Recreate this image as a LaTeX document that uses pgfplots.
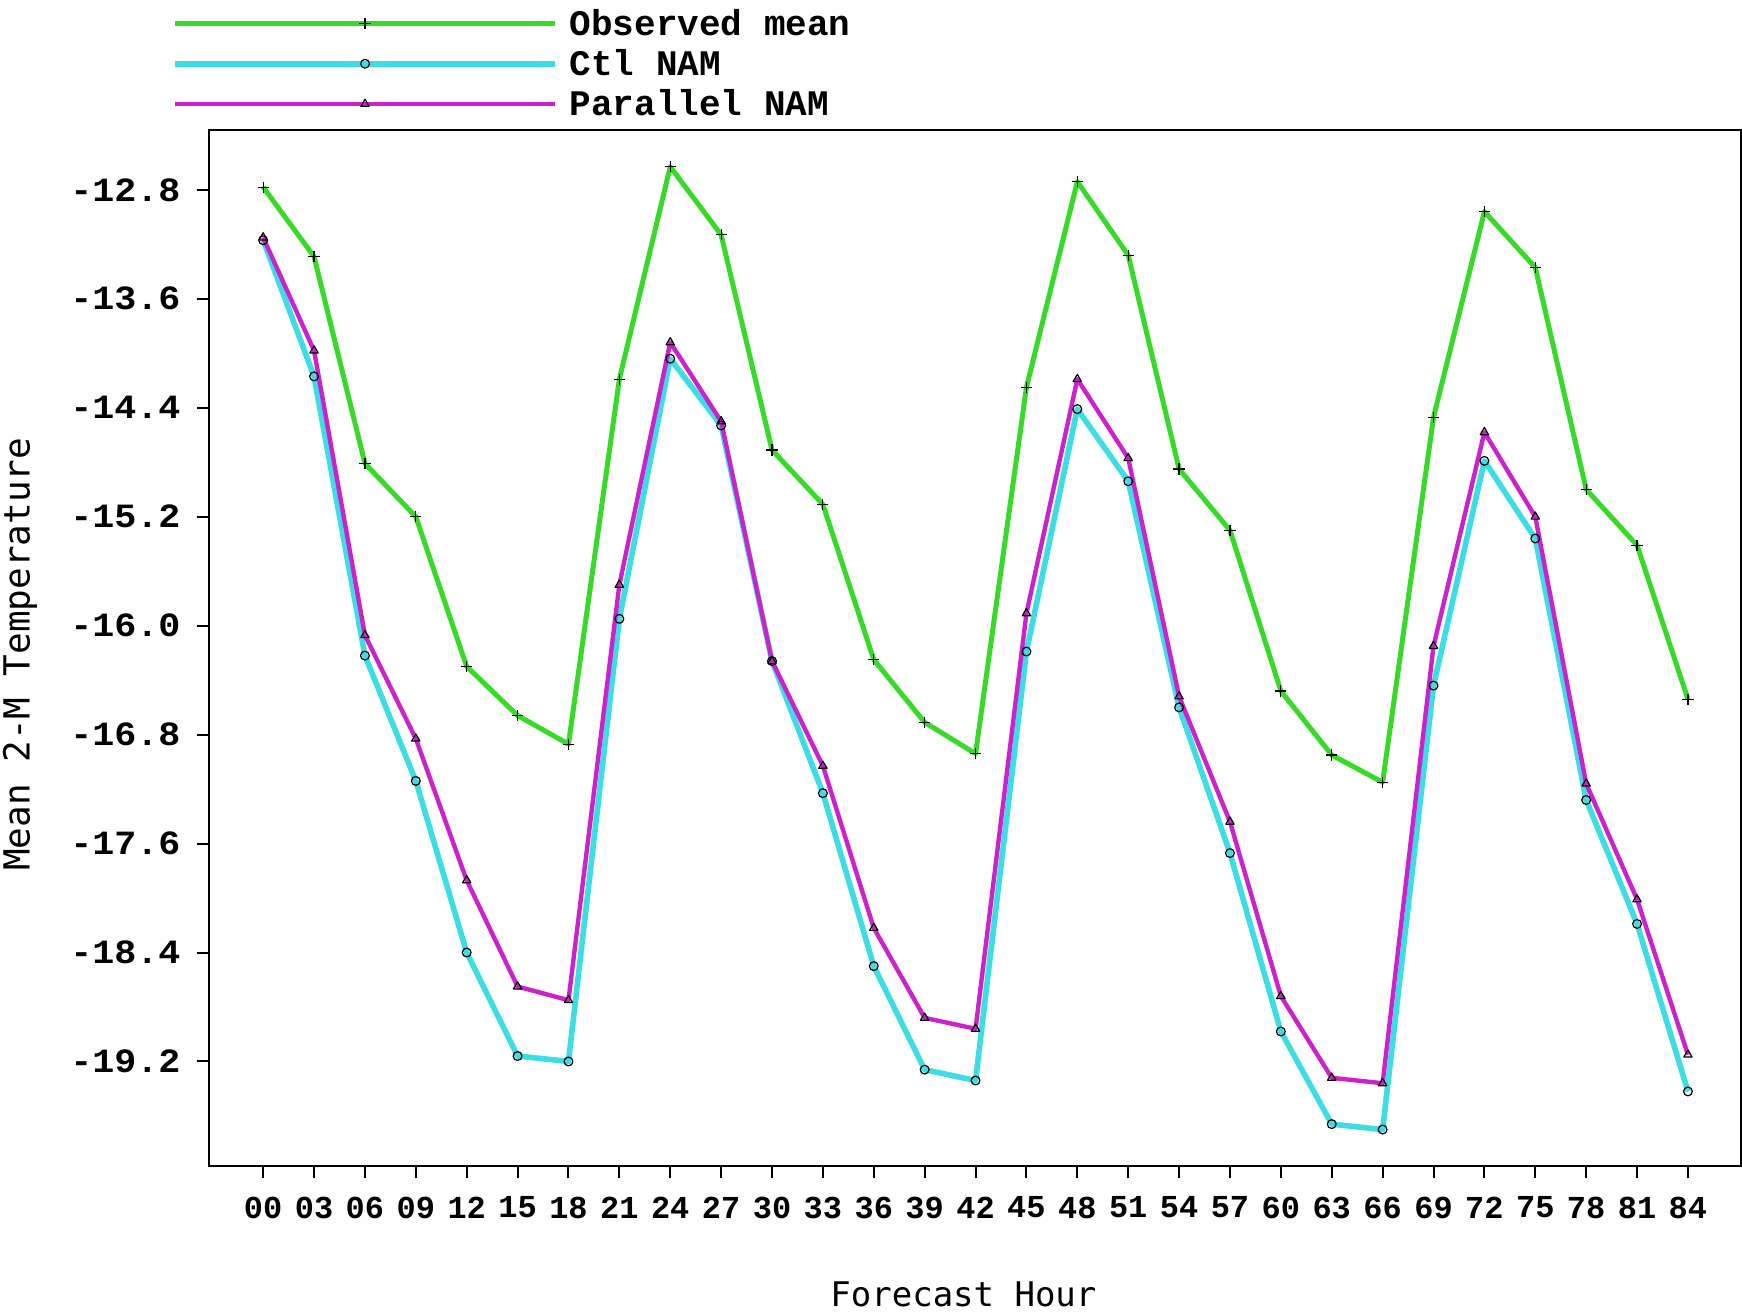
\documentclass[border=0pt]{standalone}
\usepackage{fontspec}
\usepackage{pgfplots}
\usepackage{pgfplotstable}
\pgfplotsset{compat=1.18}
\setmonofont{Liberation Mono}
\newfontfamily\labfont{DejaVu Sans Mono}
\newfontfamily\ytickfont{Liberation Mono Bold}[FakeStretch=1.08]
\newcommand\tickfont{\ttfamily\bfseries}
\definecolor{obsgreen}{RGB}{55,218,40}
\definecolor{ctlcyan}{RGB}{60,222,228}
\definecolor{parmag}{RGB}{204,34,204}

\pgfplotstableread{
x obs ctl par
0  -12.78 -13.17 -13.15
3  -13.29 -14.17 -13.98
6  -14.81 -16.22 -16.07
9  -15.20 -17.14 -16.83
12 -16.30 -18.40 -17.87
15 -16.66 -19.16 -18.65
18 -16.87 -19.20 -18.75
21 -14.19 -15.95 -15.70
24 -12.63 -14.04 -13.92
27 -13.13 -14.53 -14.50
30 -14.71 -16.26 -16.26
33 -15.11 -17.23 -17.03
36 -16.25 -18.50 -18.22
39 -16.71 -19.26 -18.88
42 -16.94 -19.34 -18.96
45 -14.25 -16.19 -15.91
48 -12.74 -14.41 -14.19
51 -13.28 -14.94 -14.77
54 -14.85 -16.60 -16.52
57 -15.30 -17.67 -17.44
60 -16.48 -18.98 -18.72
63 -16.95 -19.66 -19.32
66 -17.15 -19.70 -19.36
69 -14.47 -16.44 -16.15
72 -12.96 -14.79 -14.58
75 -13.37 -15.36 -15.20
78 -15.00 -17.28 -17.16
81 -15.41 -18.19 -18.01
84 -16.54 -19.42 -19.15
}\datatable

\begin{document}
\begin{tikzpicture}
\begin{axis}[
  at={(0pt,0pt)}, anchor=south west,
  scale only axis, width=766.5pt, height=518.5pt,
  xmin=-3.2, xmax=87.13, ymin=-19.97, ymax=-12.36,
  axis line style={line width=1pt},
  tick style={black, line width=1pt},
  tick align=outside, tick pos=left, major tick length=6pt,
  xtick={0,3,...,84},
  xticklabels={00,03,06,09,12,15,18,21,24,27,30,33,36,39,42,45,48,51,54,57,60,63,66,69,72,75,78,81,84},
  ytick={-19.2,-18.4,-17.6,-16.8,-16.0,-15.2,-14.4,-13.6,-12.8},
  yticklabels={-19.2,-18.4,-17.6,-16.8,-16.0,-15.2,-14.4,-13.6,-12.8},
  xticklabel style={font=\tickfont\fontsize{16}{16}\selectfont, inner xsep=0pt, inner ysep=9pt},
  yticklabel style={font=\ytickfont\fontsize{17}{17}\selectfont, inner xsep=8pt, inner ysep=0pt},
  xlabel={Forecast Hour},
  ylabel={Mean 2-M Temperature},
  every axis x label/.style={at={(axis description cs:0.4925,-0.1235)}, anchor=center, inner sep=0pt, font=\labfont\fontsize{17}{17}\selectfont},
  every axis y label/.style={at={(axis description cs:-0.1233,0.494)}, anchor=center, inner sep=0pt, rotate=90, font=\labfont\fontsize{18}{18}\selectfont},
  legend image code/.code={\draw[mark repeat=2,mark phase=2,#1] plot coordinates {(0pt,0pt) (95pt,0pt) (190pt,0pt)};},
  legend cell align=left,
  legend style={at={(axis description cs:-0.0241,1.0)}, anchor=south west, yshift=5.5pt, draw=none, fill=none,
    inner sep=0pt, row sep=5.6pt, font=\tickfont\fontsize{18}{20}\selectfont,
    nodes={inner ysep=0pt, inner xsep=6pt}},
  every axis plot/.append style={line join=round},
]
\addplot[obsgreen, line width=2.5pt, mark=+, mark size=2.8pt, mark options={black, line width=0.6pt}] table[x=x, y=obs] {\datatable};
\addlegendentry{Observed mean}
\addplot[ctlcyan, line width=2.8pt, mark=o, mark size=2.2pt, mark options={black, line width=0.6pt, fill=none}] table[x=x, y=ctl] {\datatable};
\addlegendentry{Ctl NAM}
\addplot[parmag, line width=2.2pt, mark=triangle, mark size=2.4pt, mark options={black, line width=0.6pt, fill=none}] table[x=x, y=par] {\datatable};
\addlegendentry{Parallel NAM}
\end{axis}
\pgfresetboundingbox
\path[use as bounding box] (-104.5pt,-74.5pt) rectangle (767pt,583.5pt);
\end{tikzpicture}
\end{document}
